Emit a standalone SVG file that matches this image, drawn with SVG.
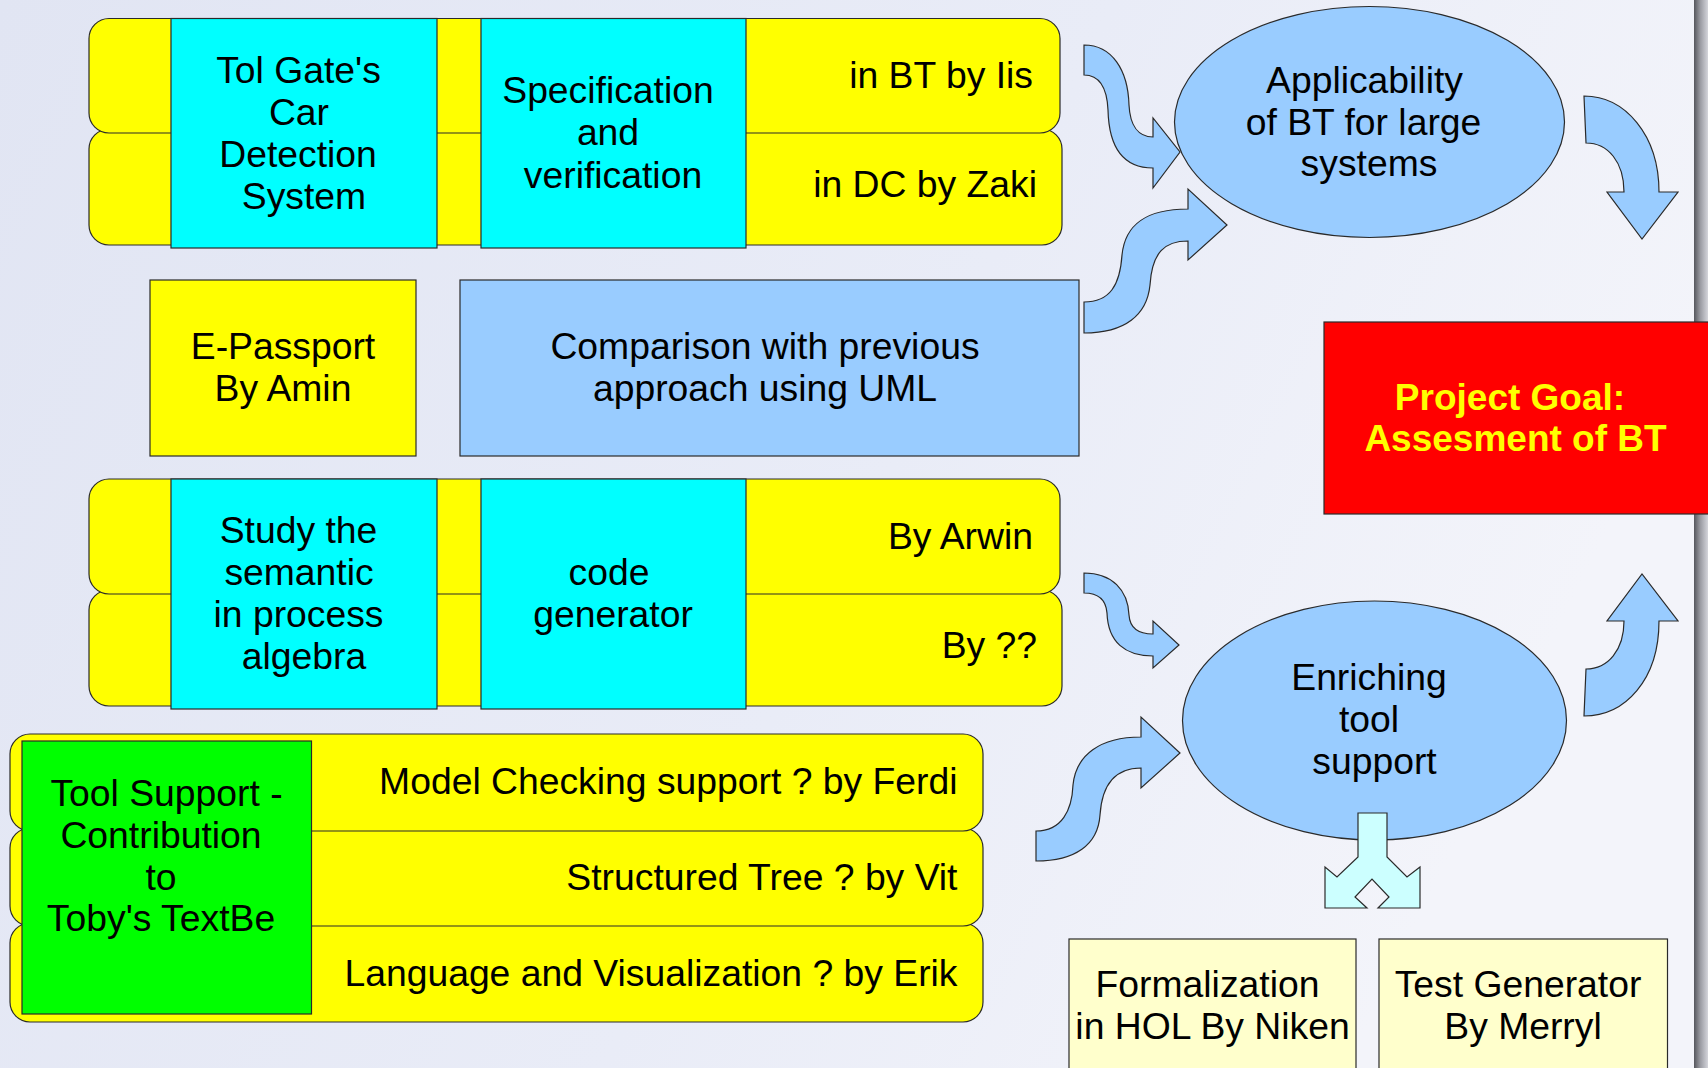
<svg xmlns="http://www.w3.org/2000/svg" width="1708" height="1068" viewBox="0 0 1708 1068">
<defs>
<linearGradient id="bg" x1="0" y1="0" x2="1" y2="0.3"><stop offset="0" stop-color="#e1e5f3"/><stop offset="0.6" stop-color="#e9ecf7"/><stop offset="1" stop-color="#f3f4fa"/></linearGradient>
<linearGradient id="edge" x1="0" y1="0" x2="1" y2="0"><stop offset="0" stop-color="#55565c"/><stop offset="0.45" stop-color="#9a9ba2"/><stop offset="1" stop-color="#d4d5db"/></linearGradient>
</defs>
<style>
.ol{stroke:#2a2a2a;stroke-width:1.2}
.y{fill:#ffff00}.c{fill:#00ffff}.b{fill:#99ccff}.g{fill:#00ff00}.r{fill:#ff0000}.ly{fill:#ffffcc}.lc{fill:#ccffff}
text{font-family:"Liberation Sans",Arial,sans-serif;font-size:37.3px;fill:#000}
.m{text-anchor:middle}.e{text-anchor:end}
.goal{font-weight:bold;fill:#ffff00;font-size:37px}
</style>
<rect x="0" y="0" width="1708" height="1068" fill="url(#bg)"/>
<rect x="1694" y="0" width="14" height="1068" fill="url(#edge)"/>

<g id="tolgate-block">
<rect class="y ol" x="89" y="129" width="973" height="116" rx="20"/>
<rect class="y ol" x="89" y="18.5" width="971" height="114.5" rx="20"/>
<rect class="c ol" x="171" y="18.5" width="266" height="229.5"/>
<rect class="c ol" x="481" y="18.5" width="265" height="229.5"/>
<text class="m" x="298.5" y="82.5">Tol Gate's</text>
<text class="m" x="299" y="124.5">Car</text>
<text class="m" x="298" y="166.5">Detection</text>
<text class="m" x="304" y="208.5">System</text>
<text class="m" x="608" y="103">Specification</text>
<text class="m" x="608" y="145">and</text>
<text class="m" x="613" y="188">verification</text>
<text class="e" x="1033" y="88">in BT by Iis</text>
<text class="e" x="1037" y="197">in DC by Zaki</text>
</g>

<g id="epassport">
<rect class="y ol" x="150" y="280" width="266" height="176"/>
<text class="m" x="283" y="359">E-Passport</text>
<text class="m" x="283" y="401">By Amin</text>
</g>

<g id="comparison">
<rect class="b ol" x="460" y="280" width="619" height="176"/>
<text class="m" x="765" y="359">Comparison with previous</text>
<text class="m" x="765" y="401">approach using UML</text>
</g>

<g id="semantic-block">
<rect class="y ol" x="89" y="590" width="973" height="116" rx="20"/>
<rect class="y ol" x="89" y="479" width="971" height="115" rx="20"/>
<rect class="c ol" x="171" y="479" width="266" height="230"/>
<rect class="c ol" x="481" y="479" width="265" height="230"/>
<text class="m" x="298.5" y="543">Study the</text>
<text class="m" x="299" y="585">semantic</text>
<text class="m" x="298.5" y="627">in process</text>
<text class="m" x="304" y="669">algebra</text>
<text class="m" x="609" y="585">code</text>
<text class="m" x="613" y="627">generator</text>
<text class="e" x="1033" y="549">By Arwin</text>
<text class="e" x="1037" y="658">By ??</text>
</g>

<g id="toolsupport-block">
<rect class="y ol" x="10" y="923" width="973" height="99" rx="20"/>
<rect class="y ol" x="10" y="828" width="973" height="98" rx="20"/>
<rect class="y ol" x="10" y="734" width="973" height="97" rx="20"/>
<rect class="g ol" x="22" y="741" width="289.5" height="273"/>
<text class="m" x="166.5" y="806">Tool Support -</text>
<text class="m" x="161" y="848">Contribution</text>
<text class="m" x="161" y="890">to</text>
<text class="m" x="161" y="931">Toby's TextBe</text>
<text class="e" x="957.5" y="794">Model Checking support ? by Ferdi</text>
<text class="e" x="957.5" y="890">Structured Tree ? by Vit</text>
<text class="e" x="957.5" y="986">Language and Visualization ? by Erik</text>
</g>

<g id="applicability">
<ellipse class="b ol" cx="1369.5" cy="122" rx="195" ry="115.5"/>
<text class="m" x="1364.5" y="92.5">Applicability</text>
<text class="m" x="1363.5" y="134.5">of BT for large</text>
<text class="m" x="1369" y="176">systems</text>
</g>

<g id="project-goal">
<rect class="r ol" x="1324" y="322" width="390" height="192"/>
<text class="m goal" x="1510" y="409.5">Project Goal:</text>
<text class="m goal" x="1515.5" y="451">Assesment of BT</text>
</g>

<g id="enriching">
<ellipse class="b ol" cx="1374.5" cy="720.5" rx="192" ry="119.5"/>
<text class="m" x="1369" y="690">Enriching</text>
<text class="m" x="1369" y="732">tool</text>
<text class="m" x="1374.5" y="774">support</text>
</g>

<g id="formalization">
<rect class="ly ol" x="1069" y="939" width="287" height="140"/>
<text class="m" x="1207.5" y="997">Formalization</text>
<text class="m" x="1212.5" y="1038.5">in HOL By Niken</text>
</g>

<g id="testgen">
<rect class="ly ol" x="1379" y="939" width="288.5" height="140"/>
<text class="m" x="1518" y="997">Test Generator</text>
<text class="m" x="1523" y="1038.5">By Merryl</text>
</g>

<g id="connectors">
<path class="b ol" d="M1084,45 C1112,45 1128,70 1129,105 C1130,125 1138,137 1153,137 L1153,118 L1180,152 L1153,188 L1153,168 C1125,168 1109,150 1108,110 C1107,88 1100,75 1084,75 Z"/>
<path class="b ol" d="M1084,302 C1110,302 1120,285 1122,255 C1125,225 1145,209 1188,209 L1188,189 L1227,225 L1188,260 L1188,241 C1165,241 1152,252 1150,285 C1147,315 1125,333 1084,333 Z"/>
<path class="b ol" d="M1584,96 C1625,96 1659,135 1659,192 L1678,192 L1642,239 L1607,192 L1624,192 C1624,162 1608,143 1586,143 Z"/>
<path class="b ol" d="M1084,573 C1112,573 1128,590 1129,615 C1130,630 1140,634 1153,634 L1153,621 L1179,645 L1153,668 L1153,656 C1125,656 1108,642 1107,613 C1106,600 1098,593 1084,593 Z"/>
<path class="b ol" d="M1036,831 C1062,831 1072,810 1073,785 C1076,755 1100,737 1141,737 L1141,717 L1180,753 L1141,788 L1141,768 C1115,768 1102,785 1100,815 C1098,845 1075,861 1036,861 Z"/>
<path class="b ol" d="M1584,716 C1625,716 1659,680 1659,621 L1678,621 L1642,574 L1607,621 L1624,621 C1624,650 1608,669 1586,669 Z"/>
<path class="lc ol" d="M1358,813 L1358,857 L1337,877 L1325,867 L1325,908 L1367,908 L1355,897 L1372,879 L1389,897 L1378,908 L1420,908 L1420,867 L1407,877 L1387,857 L1387,813 Z"/>
</g>
</svg>
